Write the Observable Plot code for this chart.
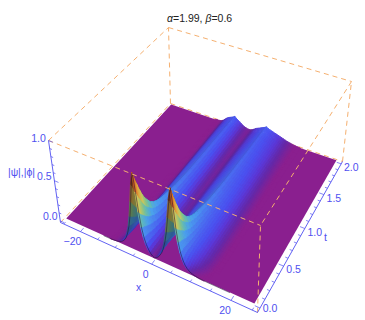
<!DOCTYPE html>
<html><head><meta charset="utf-8">
<script src="https://cdn.jsdelivr.net/npm/d3@7"></script>
<script src="https://cdn.jsdelivr.net/npm/@observablehq/plot@0.6"></script>
<style>
html,body{margin:0;padding:0;background:#fff}
#title{height:26px;width:365px;position:relative;font:10.5px "Liberation Sans",Arial,sans-serif;color:#222}
#title span{position:absolute;left:167px;top:12px;white-space:nowrap}
svg{display:block}
</style></head><body>
<div id="title"><span><i>α</i>=1.99, <i>β</i>=0.6</span></div>
<div id="chart"></div>
<script>
// x samples of the surface
const xOuter = [-25,-22,-19,-16.5,-15];
const xInner = d3.range(-14,14.5,0.5);
const xOuterR = [15,16.5,19,22,25];
// height read at t = 0 for each inner x
const frontProfile = [0,0,0,.001,.002,.003,.005,.008,.012,.018,.028,.045,.07,.11,.17,.26,.39,.58,.8,.95,.72,.48,.31,.2,.13,.08,.045,.022,.01,.022,.04,.07,.11,.17,.26,.39,.58,.8,.95,.72,.48,.32,.21,.14,.09,.06,.04,.026,.018,.012,.008,.005,.003,.002,.001,0,0];
// late-time ridge profile for each inner x
const lateProfile = [0,0,0,0,0,.001,.001,.002,.003,.004,.006,.012,.025,.045,.065,.08,.09,.1,.11,.125,.105,.09,.075,.06,.045,.032,.024,.018,.016,.02,.03,.045,.06,.07,.08,.09,.1,.11,.125,.112,.103,.095,.088,.081,.075,.067,.06,.052,.045,.037,.03,.025,.02,.015,.01,.007,.004];
// time samples with the weight of each profile
const tLevels = [0,.01,.02,.03,.04,.06,.08,.1,.125,.15,.175,.2,.25,.3,.35,.4,.45,.5,.6,.7,.8,.9,1,1.1,1.2,1.3,1.4,1.5,1.6,1.7,1.8,1.9,2];
const frontWeight = [1,.95,.9,.85,.8,.72,.63,.56,.48,.41,.35,.3,.215,.157,.12,.095,.077,.063,.04,.02,.012,.006,0,0,0,0,0,0,0,0,0,0,0];
const lateWeight = [0,.1,.2,.3,.4,.6,.78,.9,1.02,1.12,1.22,1.3,1.38,1.45,1.48,1.5,1.5,1.5,1.48,1.45,1.42,1.38,1.35,1.31,1.27,1.23,1.19,1.15,1.12,1.09,1.06,1.03,1];
// colour stops over height
const colorHeights = [0,.006,.03,.06,.1,.18,.28,.36,.45,.55,.68,.8,.95];
const colorValues = ["#8a1f8f","#8a1f8f","#6428a8","#5a38d8","#4a50f0","#4a78f0","#4aa0ee","#5cb8c0","#88c488","#c8c860","#e0a840","#d86a28","#8a2a18"];
// axes
const xTicks = [-20,0,20], xMinor = [-25,-15,-10,-5,5,10,15,25];
const tTicks = [0,.5,1,1.5,2], tMinor = [.1,.2,.3,.4,.6,.7,.8,.9,1.1,1.2,1.3,1.4,1.6,1.7,1.8,1.9];
const zTicks = [0,.5,1], zMinor = [.1,.2,.3,.4,.6,.7,.8,.9];
const xAxisLabel = "x", tAxisLabel = "t", zAxisLabel = "|ψ|,|ϕ|";

const xs = [...xOuter,...xInner,...xOuterR];
const pad = a => [...xOuter.map(()=>0),...a,...xOuterR.map(()=>0)];
const F = pad(frontProfile), L = pad(lateProfile);

// camera: the box's corners on the page
const xBox=[-26,26.2], tBox=[-.05,2.04], zBox=[-.02,1];
function homography(p){const [[x0,y0],[x1,y1],[x2,y2],[x3,y3]]=p;
 const dx1=x1-x2,dx2=x3-x2,sx=x0-x1+x2-x3,dy1=y1-y2,dy2=y3-y2,sy=y0-y1+y2-y3,den=dx1*dy2-dx2*dy1;
 const g=(sx*dy2-dx2*sy)/den,h=(dx1*sy-sx*dy1)/den;
 const a=x1-x0+g*x1,b=x3-x0+h*x3,d=y1-y0+g*y1,e=y3-y0+h*y3;
 return (u,v)=>{const w=g*u+h*v+1;return [(a*u+b*v+x0)/w,(d*u+e*v+y0)/w];};}
const floorH=homography([[60,222],[257,312],[342,161],[170,103]]);
const topH=homography([[48,140],[260,225],[351,81],[168,27]]);
function P(x,t,z){const u=(x-xBox[0])/(xBox[1]-xBox[0]),v=(t-tBox[0])/(tBox[1]-tBox[0]),w=(z-zBox[0])/(zBox[1]-zBox[0]);
 const a=floorH(u,v),b=topH(u,v);return [a[0]+(b[0]-a[0])*w,a[1]+(b[1]-a[1])*w];}

const colorOf=d3.scaleLinear().domain(colorHeights).range(colorValues).interpolate(d3.interpolateRgb).clamp(true);
const height=(i,j)=>frontWeight[j]*F[i]+lateWeight[j]*L[i];

// flat base of the surface, one piece, so that it shows no seams
const xEnds=[xs[0],xs[xs.length-1]], tEnds=[tLevels[0],tLevels[tLevels.length-1]];
const base=tEnds.map(t=>{const a=P(xEnds[0],t,0),b=P(xEnds[1],t,0);return {id:-1,col:colorValues[0],x1:a[0],y1:a[1],x2:b[0],y2:b[1]};});

const cells=[];let id=0;
for(let j=tLevels.length-2;j>=0;j--){for(let i=0;i<xs.length-1;i++){
 const z=(height(i,j)+height(i+1,j)+height(i,j+1)+height(i+1,j+1))/4;
 if(z<.002)continue;
 const dzdx=((height(i+1,j)-height(i,j))+(height(i+1,j+1)-height(i,j+1)))/2/(xs[i+1]-xs[i]);
 // left-facing slopes of the tall front sheet are shaded; the low ridges only slightly
 const k=z>.25?8:2.5;
 const f=1+Math.min(1,z/.02)*(Math.max(.62,Math.min(1,1-k*dzdx))-1);
 const c=d3.rgb(colorOf(z));const col=d3.rgb(c.r*f,c.g*f,c.b*f).formatHex();
 const a1=P(xs[i],tLevels[j],height(i,j)),b1=P(xs[i+1],tLevels[j],height(i+1,j));
 const a2=P(xs[i],tLevels[j+1],height(i,j+1)),b2=P(xs[i+1],tLevels[j+1],height(i+1,j+1));
 cells.push({id,col,x1:a1[0],y1:a1[1],x2:b1[0],y2:b1[1]},{id,col,x1:a2[0],y1:a2[1],x2:b2[0],y2:b2[1]});id++;
}}
const edge=(a,b)=>{const p=P(...a),q=P(...b);return {x1:p[0],y1:p[1],x2:q[0],y2:q[1]};};
const [X0,X1]=xBox,[T0,T1]=tBox,[Z0,Z1]=zBox;
const backEdges=[edge([X0,T0,Z0],[X0,T1,Z0]),edge([X0,T1,Z0],[X1,T1,Z0]),edge([X1,T1,Z0],[X1,T1,Z1]),edge([X0,T1,Z0],[X0,T1,Z1])];
const frontEdges=[edge([X0,T0,Z1],[X1,T0,Z1]),edge([X1,T0,Z0],[X1,T0,Z1]),edge([X0,T0,Z1],[X0,T1,Z1]),edge([X0,T1,Z1],[X1,T1,Z1]),edge([X1,T1,Z1],[X1,T0,Z1])];
const axes=[edge([X0,T0,Z0],[X1,T0,Z0]),edge([X1,T0,Z0],[X1,T1,Z0]),edge([X0,T0,Z1],[X0,T0,Z0])];
const tickX=(v,l)=>edge([v,T0,Z0],[v,T0+l*.05,Z0]);
const tickT=(v,l)=>edge([X1,v,Z0],[X1-l*1.2,v,Z0]);
const tickZ=(v,l)=>edge([X0,T0,v],[X0+l*1.2,T0,v]);
const ticks=[...xTicks.map(v=>tickX(v,1)),...xMinor.map(v=>tickX(v,.55)),...tTicks.map(v=>tickT(v,1)),...tMinor.map(v=>tickT(v,.55)),...zTicks.map(v=>tickZ(v,1)),...zMinor.map(v=>tickZ(v,.55))];
const lab=(p,text,dx,dy)=>({x:p[0]+dx,y:p[1]+dy,text});
const labels=[...xTicks.map(v=>lab(P(v,T0,Z0),v===0?"0":String(v).replace("-","−"),v<0?-8:-6,10)),
 ...tTicks.map(v=>lab(P(X1,v,Z0),v.toFixed(1),10,v===0?1:4)),
 ...zTicks.map(v=>lab(P(X0,T0,v),v.toFixed(1),-10,v===1?-2:-4)),
 {x:138,y:287,text:xAxisLabel},{x:325,y:237,text:tAxisLabel},{x:21,y:172,text:zAxisLabel}];
const rim=xs.map((x,i)=>{const p=P(x,0,height(i,0));return {x:p[0],y:p[1]};}).filter(d=>d.x>100&&d.x<232);

const orange="#f5b070",blue="#5050f0";
const plot=Plot.plot({width:365,height:294,marginTop:0,marginRight:0,marginBottom:0,marginLeft:0,
 x:{domain:[0,365],range:[0,365],axis:null},y:{domain:[26,320],range:[0,294],axis:null},color:{type:"identity"},
 marks:[
  Plot.link(backEdges,{x1:"x1",y1:"y1",x2:"x2",y2:"y2",stroke:orange,strokeWidth:1,strokeDasharray:"5 4"}),
  Plot.area(base,{x1:"x1",y1:"y1",x2:"x2",y2:"y2",z:"id",fill:"col",curve:"linear"}),
  Plot.area(cells,{x1:"x1",y1:"y1",x2:"x2",y2:"y2",z:"id",fill:"col",stroke:"col",strokeWidth:.9,curve:"linear"}),
  Plot.line(rim,{x:"x",y:"y",stroke:"#1c1030",strokeWidth:.7,strokeOpacity:.75}),
  Plot.link(frontEdges,{x1:"x1",y1:"y1",x2:"x2",y2:"y2",stroke:orange,strokeWidth:1,strokeDasharray:"5 4"}),
  Plot.link(axes,{x1:"x1",y1:"y1",x2:"x2",y2:"y2",stroke:blue,strokeWidth:.9}),
  Plot.link(ticks,{x1:"x1",y1:"y1",x2:"x2",y2:"y2",stroke:blue,strokeWidth:.7}),
  Plot.text(labels,{x:"x",y:"y",text:"text",fill:blue,fontSize:10.5,fontFamily:"Liberation Sans"})
 ]});
document.getElementById("chart").append(plot);
</script></body></html>
